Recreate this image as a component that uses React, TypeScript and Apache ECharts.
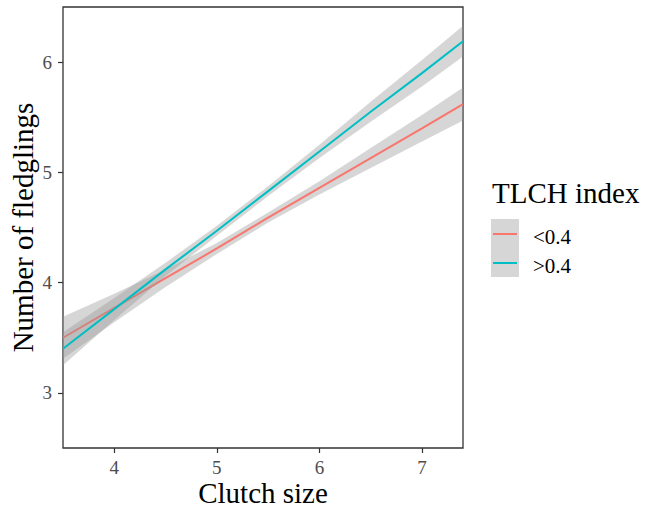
import React, { useEffect, useRef } from "react";
import * as echarts from "echarts";

const xs = [3.5, 4, 4.5, 5, 5.5, 6, 6.5, 7, 7.4];
const lowFit = [3.5, 3.77, 4.04, 4.31, 4.59, 4.86, 5.13, 5.4, 5.62];
const lowLower = [3.31, 3.64, 3.96, 4.26, 4.545, 4.8, 5.04, 5.28, 5.47];
const lowUpper = [3.69, 3.9, 4.12, 4.36, 4.635, 4.92, 5.22, 5.52, 5.77];
const highFit = [3.4, 3.76, 4.12, 4.47, 4.83, 5.19, 5.55, 5.9, 6.19];
const highLower = [3.25, 3.66, 4.06, 4.425, 4.785, 5.13, 5.46, 5.78, 6.05];
const highUpper = [3.55, 3.86, 4.18, 4.515, 4.875, 5.25, 5.64, 6.02, 6.33];
const xTicks = [4, 5, 6, 7];
const yTicks = [3, 4, 5, 6];
const groupNames = ["<0.4", ">0.4"];
const legendTitle = "TLCH index";

const FONT = "'Liberation Serif', 'Times New Roman', serif";
const RED = "#F8766D";
const BLUE = "#00BFC4";
const BAND = "rgba(153,153,153,0.4)";

function bandSeries(lower: number[], upper: number[], z: number) {
  return {
    type: "custom",
    z,
    silent: true,
    data: [[xs[0], lower[0]]],
    renderItem: (params: any, api: any) => {
      const pts: number[][] = [];
      for (let i = 0; i < xs.length; i++) pts.push(api.coord([xs[i], upper[i]]));
      for (let i = xs.length - 1; i >= 0; i--) pts.push(api.coord([xs[i], lower[i]]));
      return {
        type: "polygon",
        shape: { points: pts },
        style: { fill: BAND, stroke: "none" },
      };
    },
  };
}

function lineSeries(name: string, fit: number[], color: string, z: number) {
  return {
    type: "line",
    name,
    z,
    symbol: "none",
    showSymbol: false,
    data: xs.map((x, i) => [x, fit[i]]),
    lineStyle: { color, width: 2 },
    itemStyle: { color },
  };
}

export default function App() {
  const ref = useRef<HTMLDivElement>(null);
  useEffect(() => {
    if (!ref.current) return;
    const chart = echarts.init(ref.current, undefined, { renderer: "svg" });
    chart.setOption({
      animation: false,
      backgroundColor: "#ffffff",
      grid: {
        left: 63,
        top: 7,
        width: 400,
        height: 441,
        outerBoundsMode: "none",
        containLabel: false,
        show: true,
        borderColor: "#333333",
        borderWidth: 1.3,
        backgroundColor: "transparent",
      },
      xAxis: {
        type: "value",
        min: 3.5,
        max: 7.4,
        name: "Clutch size",
        nameLocation: "middle",
        nameGap: 30,
        nameMoveOverlap: false,
        nameTextStyle: { fontFamily: FONT, fontSize: 29, color: "#000" },
        axisLine: { show: false },
        axisTick: {
          show: true,
          length: 5,
          customValues: xTicks,
          lineStyle: { color: "#333333", width: 1.2 },
        },
        axisLabel: {
          customValues: xTicks,
          margin: 10,
          fontFamily: FONT,
          fontSize: 19,
          color: "#4d4d4d",
        },
        splitLine: { show: false },
      },
      yAxis: {
        type: "value",
        min: 2.5,
        max: 6.5,
        name: "Number of fledglings",
        nameLocation: "middle",
        nameGap: 26,
        nameMoveOverlap: false,
        nameTextStyle: { fontFamily: FONT, fontSize: 29, color: "#000" },
        axisLine: { show: false },
        axisTick: {
          show: true,
          length: 5,
          customValues: yTicks,
          lineStyle: { color: "#333333", width: 1.2 },
        },
        axisLabel: {
          customValues: yTicks,
          margin: 11,
          fontFamily: FONT,
          fontSize: 19,
          color: "#4d4d4d",
        },
        splitLine: { show: false },
      },
      series: [
        bandSeries(lowLower, lowUpper, 1),
        lineSeries(groupNames[0], lowFit, RED, 2),
        bandSeries(highLower, highUpper, 3),
        lineSeries(groupNames[1], highFit, BLUE, 4),
      ],
      graphic: [
        {
          type: "text",
          left: 492,
          top: 178,
          style: { text: legendTitle, fontFamily: FONT, fontSize: 29, fill: "#000" },
        },
        {
          type: "rect",
          shape: { x: 491, y: 219, width: 28, height: 58 },
          style: { fill: BAND },
        },
        {
          type: "line",
          shape: { x1: 493, y1: 234, x2: 517, y2: 234 },
          style: { stroke: RED, lineWidth: 2 },
        },
        {
          type: "line",
          shape: { x1: 493, y1: 263, x2: 517, y2: 263 },
          style: { stroke: BLUE, lineWidth: 2 },
        },
        {
          type: "text",
          x: 533,
          y: 237,
          style: {
            text: groupNames[0],
            fontFamily: FONT,
            fontSize: 21,
            fill: "#000",
            verticalAlign: "middle",
          },
        },
        {
          type: "text",
          x: 533,
          y: 266,
          style: {
            text: groupNames[1],
            fontFamily: FONT,
            fontSize: 21,
            fill: "#000",
            verticalAlign: "middle",
          },
        },
      ],
    });
    return () => chart.dispose();
  }, []);
  return (
    <div
      ref={ref}
      style={{ position: "fixed", left: 0, top: 0, width: 645, height: 511 }}
    />
  );
}
